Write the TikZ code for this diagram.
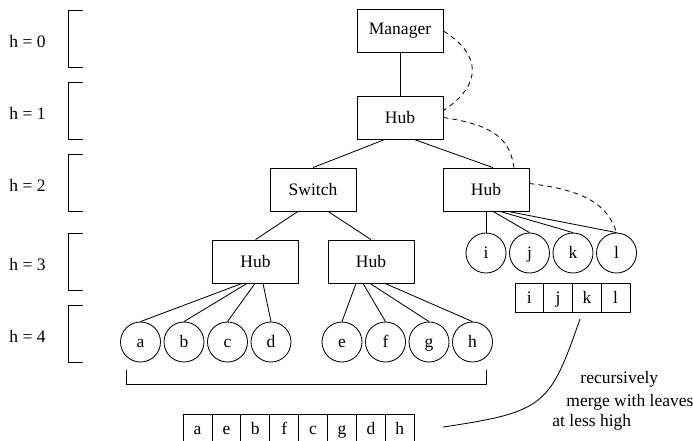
\documentclass[tikz,border=0pt]{standalone}
\usepackage{fontspec}
\setmainfont{Liberation Serif}
\usetikzlibrary{positioning, calc}

\begin{document}
\begin{tikzpicture}[
    x=0.6pt, y=-0.6pt,
    font=\fontsize{10.5}{12}\selectfont,
    line width=0.5pt,
    box/.style={
        rectangle,
        draw,
        minimum width=51.6pt,
        minimum height=25.8pt,
        inner sep=0pt
    },
    leaf/.style={
        circle,
        draw,
        minimum size=24pt,
        inner sep=0pt,
        text height=1.75ex,
        text depth=0.25ex
    },
    cell/.style={
        rectangle,
        draw,
        minimum width=17.3pt,
        minimum height=17.4pt,
        inner sep=0pt,
        text height=1.75ex,
        text depth=0.25ex
    },
    label/.style={
        anchor=west,
        inner sep=0pt
    },
    link/.style={
        dash pattern=on 3pt off 2.4pt
    }
]
\useasboundingbox (0,0) rectangle (693,440);

% height levels
\foreach \lv/\ytop in {0/10,1/82,2/154,3/233,4/305} {
    \draw (83,\ytop) -- (68,\ytop) -- (68,\ytop+57) -- (83,\ytop+57);
    \node[label] (lvl\lv) at (9,\ytop+31.5) {h = \lv};
}

% tree
\node[box] (manager) at (400,31) {Manager};
\node[box] (hub1) at (400,117.5) {Hub};
\node[box] (switch) at (313,189.5) {Switch};
\node[box] (hub2) at (486,189.5) {Hub};
\node[box] (hub3) at (255.5,261.5) {Hub};
\node[box] (hub4) at (371,261.5) {Hub};

% leaves
\foreach \n [count=\k from 0] in {a,b,c,d}
    \node[leaf] (\n) at (140.5+43.5*\k,342) {\n};
\foreach \n [count=\k from 0] in {e,f,g,h}
    \node[leaf] (\n) at (342+43.5*\k,342) {\n};
\foreach \n [count=\k from 0] in {i,j,k,l}
    \node[leaf] (\n) at (486+43.5*\k,253) {\n};

% merged leaves
\foreach \n [count=\k from 0] in {i,j,k,l}
    \node[cell] (top\n) at (529.4+28.75*\k,297.5) {\n};
\foreach \n [count=\k from 0] in {a,e,b,f,c,g,d,h}
    \node[cell] (all\k) at (197.5+28.9*\k,428.5) {\n};

% tree edges
\draw (manager) -- (hub1);
\draw ($(hub1.south)+(-15,0)$) -- (switch.north);
\draw ($(hub1.south)+(14,0)$) -- ($(hub2.north)+(7,0)$);
\draw ($(switch.south)+(-15,0)$) -- (hub3.north);
\draw ($(switch.south)+(15,0)$) -- (hub4.north);
\foreach \n/\dx in {a/-13.5,b/-8.5,c/-0.5,d/7.5}
    \draw ($(hub3.south)+(\dx,0)$) -- (\n.north);
\foreach \n/\dx in {e/-15,f/-8,g/-1,h/14}
    \draw ($(hub4.south)+(\dx,0)$) -- (\n.north);
\foreach \n/\dx in {i/0,j/7,k/14,l/22}
    \draw ($(hub2.south)+(\dx,0)$) -- (\n.north);

% dashed links
\draw[link] (manager.east) .. controls (482,55) and (482,85) .. ($(hub1.east)+(0,-7)$);
\draw[link] (hub1.east) .. controls (495,125) and (510,140) .. ($(hub2.north)+(28,0)$);
\draw[link] ($(hub2.east)+(0,-6)$) .. controls (585,190) and (608,205) .. (l.north);

% bracket under leaves
\draw (126,370) -- (126,384) -- (486,384) -- (486,370);

% merge note
\coordinate (mergefrom) at (443,427);
\coordinate (mergeto) at (580,319);
\draw (mergefrom) .. controls (545,412) and (550,405) .. (mergeto);
\node[label] (note1) at (580,379) {recursively};
\node[label] (note2) at (566,402) {merge with leaves};
\node[label] (note3) at (552,422) {at less high};

\end{tikzpicture}
\end{document}
